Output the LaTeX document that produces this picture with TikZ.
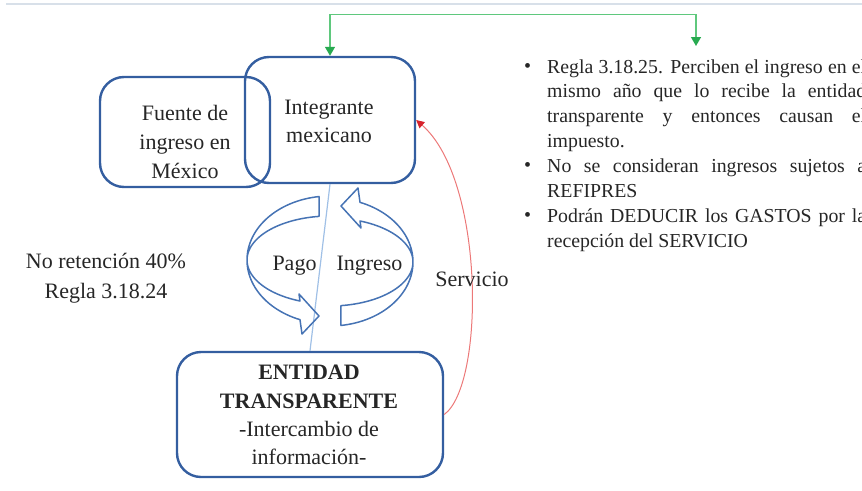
\documentclass[tikz,border=0pt]{standalone}
\usepackage{fontspec}
\setmainfont{Liberation Serif}
\usetikzlibrary{arrows.meta}
\definecolor{boxblue}{RGB}{52,94,160}
\definecolor{arrblue}{RGB}{70,115,180}
\definecolor{lineblue}{RGB}{160,192,230}
\definecolor{servred}{RGB}{236,120,120}
\definecolor{tipred}{RGB}{215,35,45}
\definecolor{gline}{RGB}{95,200,125}
\definecolor{gtip}{RGB}{40,170,80}
\definecolor{topgray}{RGB}{216,224,233}
\definecolor{txt}{RGB}{38,38,38}
\newcommand\jl[1]{\makebox[319pt][s]{#1}}
\begin{document}
\begin{tikzpicture}[x=1pt,y=-1pt,
  rbox/.style={draw=boxblue, line width=2.4pt, rounded corners=24pt, inner sep=0pt},
  lbl/.style={font=\fontsize{22}{29}\selectfont, text=txt, inner sep=0pt, align=center},
  rl/.style={font=\fontsize{19.8}{24.9}\selectfont, text=txt, inner sep=0pt, anchor=base west},
  bul/.style={font=\fontsize{20}{24}\selectfont, text=txt, inner sep=0pt, anchor=base west},
  carrow/.style={draw=arrblue, line width=1.5pt, line join=round},
  gconn/.style={draw=gline, line width=1.3pt, {Triangle[width=10pt,length=9pt,color=gtip]}-{Triangle[width=10pt,length=9pt,color=gtip]}},
  rconn/.style={draw=servred, line width=1pt, -{Triangle[width=8pt,length=8pt,color=tipred]}},
  bline/.style={draw=lineblue, line width=1.2pt}
]
\useasboundingbox (0,0) rectangle (862,490);
% top rule
\draw[topgray, line width=2pt] (6,4) -- (862,4);

% boxes
\node[rbox, minimum width=170pt, minimum height=110pt] (fuente) at (185,132) {};
\node[rbox, minimum width=170pt, minimum height=126pt] (integ) at (330,120) {};
\node[rbox, minimum width=266pt, minimum height=125pt] (entidad) at (310,414.5) {};

% box labels
\node[lbl] (fuentet) at (185,141.5) {Fuente de\\ingreso en\\México};
\node[lbl, font=\fontsize{22}{28}\selectfont] (integt) at (329,121.5) {Integrante\\mexicano};
\node[lbl, font=\fontsize{22}{28.3}\selectfont] (entidadt) at (309,415) {\textbf{ENTIDAD}\\\textbf{TRANSPARENTE}\\-Intercambio de\\información-};

% connectors
\draw[bline] (integ.south) -- (entidad.north);
\coordinate (gend) at (696,46);
\draw[gconn] (integ.north) -- ++(0,-41) -| (gend);
\draw[rconn] (entidad.east) .. controls (485,385) and (485,180) .. (integ.east);

% circular arrows
\draw[carrow] plot[domain=262.4:111.2, samples=60] ({330+83*cos(\x)},{260+64*sin(\x)})
  -- (302,334) -- (319,316) -- (299,294) --
  plot[domain=111.2:262.4, samples=60] ({330+83*cos(\x)},{260+44*sin(\x)}) -- cycle;
\begin{scope}[rotate around={180:(330,261)}]
\draw[carrow] plot[domain=262.4:111.2, samples=60] ({330+83*cos(\x)},{260+64*sin(\x)})
  -- (302,334) -- (319,316) -- (299,294) --
  plot[domain=111.2:262.4, samples=60] ({330+83*cos(\x)},{260+44*sin(\x)}) -- cycle;
\end{scope}

% free labels
\node[lbl, anchor=base] (pago) at (294.5,270) {Pago};
\node[lbl, anchor=base] (ingreso) at (369.5,270) {Ingreso};
\node[lbl, anchor=base] (servicio) at (472,286) {Servicio};
\node[lbl, font=\fontsize{22}{30}\selectfont] (noret) at (106,278) {No retención 40\%\\Regla 3.18.24};

% bullet list (clipped at the right edge, as in the reference)
\begin{scope}
\clip (0,0) rectangle (862,490);
\node[bul] (b1) at (524,72) {\textbullet};
\node[bul] (b2) at (524,171.6) {\textbullet};
\node[bul] (b3) at (524,221.4) {\textbullet};
\node[rl] (r1) at (547,73) {\jl{Regla 3.18.25. Perciben el ingreso en el}};
\node[rl] (r2) at (547,97.9) {\jl{mismo año que lo recibe la entidad}};
\node[rl] (r3) at (547,122.8) {\jl{transparente y entonces causan el}};
\node[rl] (r4) at (547,147.7) {impuesto.};
\node[rl] (r5) at (547,172.6) {\jl{No se consideran ingresos sujetos a}};
\node[rl] (r6) at (547,197.5) {REFIPRES};
\node[rl] (r7) at (547,222.4) {\jl{Podrán DEDUCIR los GASTOS por la}};
\node[rl] (r8) at (547,247.3) {recepción del SERVICIO};
\end{scope}
\end{tikzpicture}
\end{document}
